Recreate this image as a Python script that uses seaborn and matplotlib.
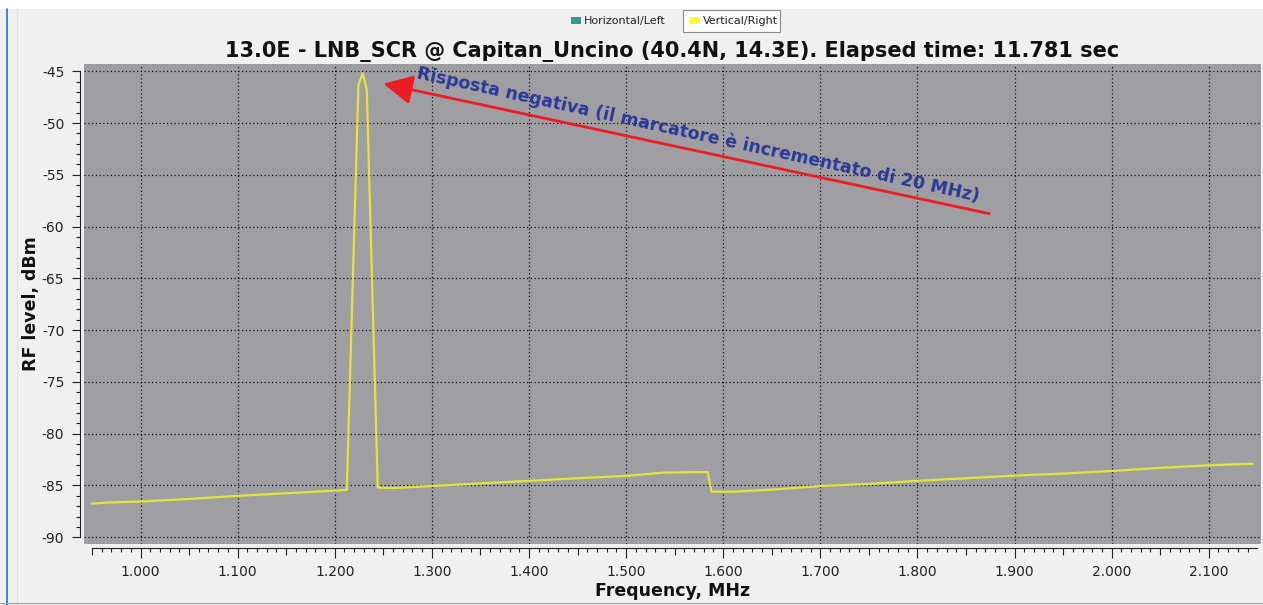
import numpy as np
import pandas as pd
import matplotlib
matplotlib.use("Agg")
import matplotlib.pyplot as plt
from matplotlib.lines import Line2D
from matplotlib.patches import Rectangle
from matplotlib.ticker import MultipleLocator, FixedLocator, FuncFormatter
import seaborn as sns

# Spectrum trace (Vertical/Right polarisation)
freq_mhz = [0.950, 0.965, 1.000, 1.050, 1.100, 1.150, 1.200, 1.2124,
            1.2244, 1.2289, 1.2330, 1.2443,
            1.260, 1.300, 1.350, 1.400, 1.450, 1.500, 1.540, 1.584,
            1.588, 1.610, 1.650, 1.700, 1.750, 1.800, 1.850, 1.900,
            1.950, 2.000, 2.050, 2.100, 2.145]
level_dbm = [-86.75, -86.65, -86.55, -86.30, -86.00, -85.75, -85.50, -85.42,
             -46.30, -45.20, -46.80, -85.20,
             -85.25, -85.05, -84.80, -84.55, -84.30, -84.07, -83.75, -83.70,
             -85.60, -85.60, -85.40, -85.05, -84.85, -84.55, -84.30, -84.05,
             -83.85, -83.60, -83.30, -83.05, -82.90]

x_major = [1.0, 1.1, 1.2, 1.3, 1.4, 1.5, 1.6, 1.7, 1.8, 1.9, 2.0, 2.1]
y_major = [-45, -50, -55, -60, -65, -70, -75, -80, -85, -90]

title_text = "13.0E - LNB_SCR @ Capitan_Uncino (40.4N, 14.3E). Elapsed time: 11.781 sec"
x_title = "Frequency, MHz"
y_title = "RF level, dBm"
legend_labels = ["Horizontal/Left", "Vertical/Right"]
note_text = "Risposta negativa (il marcatore è incrementato di 20 MHz)"

sns.set_theme(style="white")
plt.rcParams["font.family"] = ["DejaVu Sans"]
plt.rcParams["axes.unicode_minus"] = False

W, H = 1263, 605
fig = plt.figure(figsize=(W / 100, H / 100), dpi=100, facecolor="#f0f0f0")
ax = fig.add_axes([84 / W, (H - 544) / H, 1177 / W, 480 / H])
ax.set_facecolor("#9f9fa3")

df = pd.DataFrame({"freq": freq_mhz, "level": level_dbm})
sns.lineplot(data=df, x="freq", y="level", ax=ax, color="#e4e43a",
             linewidth=1.6, estimator=None, sort=False, zorder=3)

ax.set_xlim(0.9418, 2.1538)
ax.set_ylim(-90.65, -44.3)

# Spines: only left and bottom, set slightly apart from the plot area
for s in ["top", "right"]:
    ax.spines[s].set_visible(False)
for s in ["left", "bottom"]:
    ax.spines[s].set_position(("outward", 2.9))
    ax.spines[s].set_color("#202020")
    ax.spines[s].set_linewidth(0.8)
ax.spines["bottom"].set_bounds(0.95, 2.15)
ax.spines["left"].set_bounds(-90, -45)

ax.xaxis.set_major_locator(FixedLocator(x_major))
ax.xaxis.set_major_formatter(FuncFormatter(lambda v, p: f"{v:.3f}"))
minor_x = [round(0.95 + 0.01 * i, 2) for i in range(120)]
ax.xaxis.set_minor_locator(FixedLocator(minor_x))
ax.yaxis.set_major_locator(FixedLocator(y_major))
ax.yaxis.set_major_formatter(FuncFormatter(lambda v, p: f"{v:.0f}"))
ax.yaxis.set_minor_locator(MultipleLocator(1))

ax.tick_params(axis="x", which="major", direction="out", length=7.2, width=0.8,
               color="#202020", labelsize=10, pad=5, labelcolor="#222222", bottom=True)
ax.tick_params(axis="x", which="minor", direction="out", length=2.9, width=0.8,
               color="#202020", bottom=True)
ax.tick_params(axis="y", which="major", direction="out", length=5.8, width=0.8,
               color="#202020", labelsize=10, pad=5.5, labelcolor="#222222", left=True)
ax.tick_params(axis="y", which="minor", direction="out", length=2.9, width=0.8,
               color="#202020", left=True)

ax.grid(True, which="major", color="#111111", linestyle=(0, (1, 2)), linewidth=0.9)

ax.set_xlabel(x_title, fontsize=12.5, fontweight="bold", labelpad=2, color="#111111")
ax.set_ylabel(y_title, fontsize=12.5, fontweight="bold", labelpad=1, color="#111111")
ax.set_title(title_text, fontsize=15, fontweight="bold", pad=5, color="#111111")

# Arrow and note pointing at the spurious peak
ax.annotate("", xy=(1.250, -46.2), xytext=(1.874, -58.75),
            arrowprops=dict(arrowstyle="-|>,head_length=0.9,head_width=0.45",
                            color="#ec1c24", lw=2.0, mutation_scale=20, shrinkA=0, shrinkB=0),
            zorder=5)
ax.text(1.5745, -51.1, note_text, rotation=-12.4, rotation_mode="anchor",
        ha="center", va="center", fontsize=12.5, fontweight="bold",
        color="#2b3898", zorder=6)

# Legend strip above the title
fig.patches.append(Rectangle((571 / W, 1 - 24 / H), 10 / W, 7 / H, transform=fig.transFigure,
                             facecolor="#2e9a94", edgecolor="none"))
fig.text(584 / W, 1 - 21 / H, legend_labels[0], fontsize=8, va="center", ha="left",
         color="#222222")
fig.patches.append(Rectangle((683 / W, 1 - 31.5 / H), 97 / W, 21.5 / H, transform=fig.transFigure,
                             facecolor="#fbfbfb", edgecolor="#8a8a8a", linewidth=0.8))
fig.patches.append(Rectangle((690 / W, 1 - 24 / H), 10 / W, 7 / H, transform=fig.transFigure,
                             facecolor="#ffff1a", edgecolor="none"))
fig.text(703 / W, 1 - 21 / H, legend_labels[1], fontsize=8, va="center", ha="left",
         color="#222222")

# Window frame
fig.patches.append(Rectangle((0, 1 - 9 / H), 1, 9 / H, transform=fig.transFigure,
                             facecolor="white", edgecolor="none"))
fig.lines.append(Line2D([6.5 / W, 6.5 / W], [0, 1 - 9 / H], transform=fig.transFigure,
                        color="#1a73d0", linewidth=1.2))
fig.lines.append(Line2D([16.5 / W, 16.5 / W], [0, 1 - 9 / H], transform=fig.transFigure,
                        color="#e2e2e2", linewidth=0.8))
fig.lines.append(Line2D([0, 1], [2.5 / H, 2.5 / H], transform=fig.transFigure,
                        color="#a0a0a0", linewidth=0.8))

# Medium-length ticks every 0.05 MHz
fig.canvas.draw()
for t, loc in zip(ax.xaxis.get_minor_ticks(), ax.xaxis.get_minorticklocs()):
    if abs(round(loc * 100) % 5) == 0:
        t.tick1line.set_markersize(5.0)

fig.savefig("out.png", dpi=100, facecolor=fig.get_facecolor())
